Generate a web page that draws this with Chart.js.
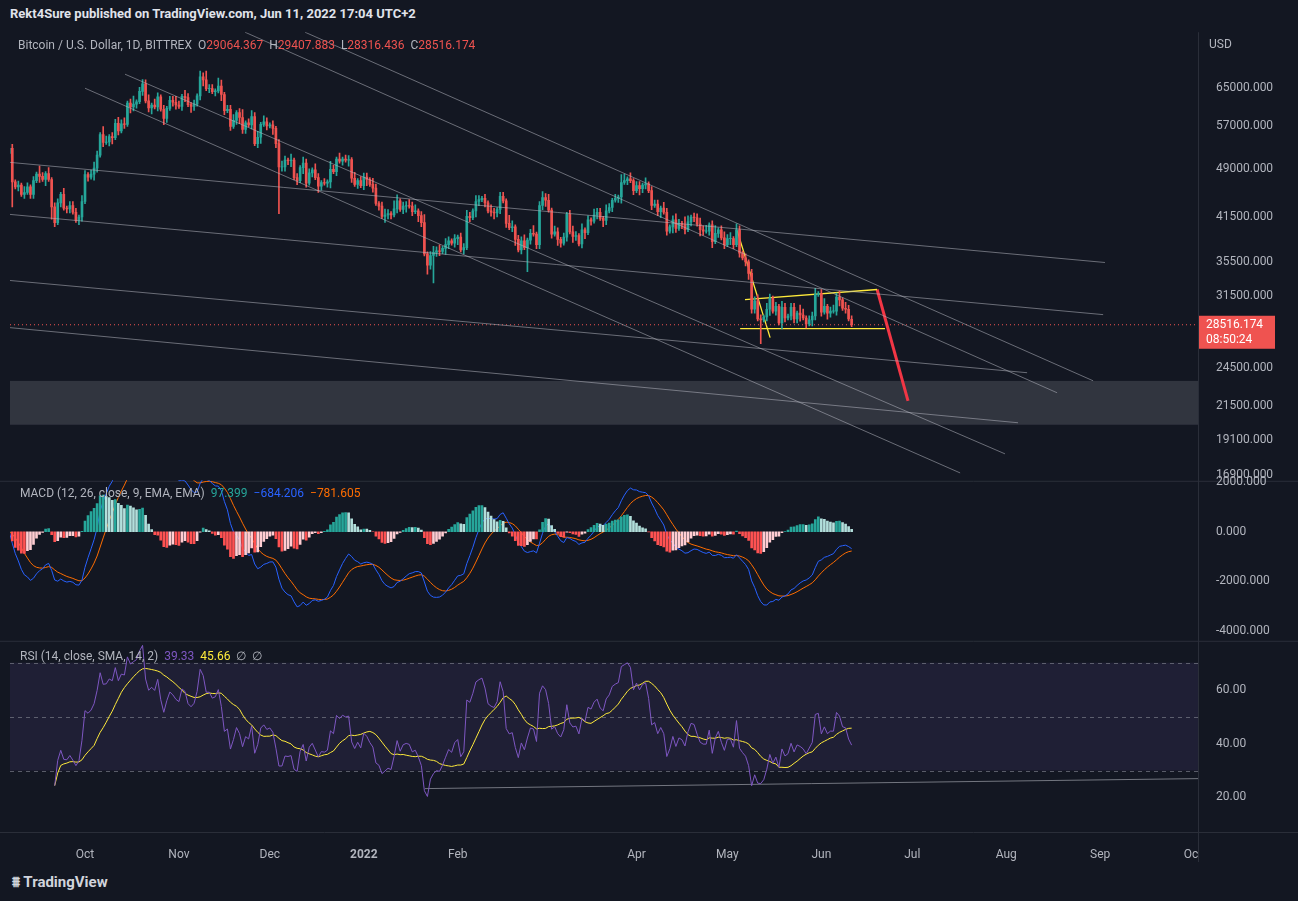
<!DOCTYPE html>
<html><head><meta charset="utf-8">
<script src="https://cdn.jsdelivr.net/npm/chart.js@4.4.1/dist/chart.umd.min.js"></script>
<style>
html,body{margin:0;padding:0;background:#131722;width:1298px;height:901px;overflow:hidden;font-family:Roboto,"Liberation Sans",sans-serif}
canvas{position:absolute;left:0}
.t{position:absolute;color:#d1d4dc;font-size:12px;white-space:nowrap}
</style></head><body>
<div class="t" style="left:10px;top:6px;font-size:13px;font-weight:bold;color:#e0e3eb">Rekt4Sure published on TradingView.com, Jun 11, 2022 17:04 UTC+2</div>
<canvas id="c1" width="1298" height="483" style="top:15px"></canvas>
<canvas id="c2" width="1298" height="195" style="top:463px"></canvas>
<canvas id="c3" width="1298" height="237" style="top:625px"></canvas>
<div class="t" style="left:18px;top:38px;color:#b2b5be">Bitcoin / U.S. Dollar, 1D, BITTREX &nbsp;O<span style="color:#ef5350">29064.367</span> &nbsp;H<span style="color:#ef5350">29407.883</span> &nbsp;L<span style="color:#ef5350">28316.436</span> &nbsp;C<span style="color:#ef5350">28516.174</span></div>
<div class="t" style="left:20px;top:486px;color:#b2b5be">MACD (12, 26, close, 9, EMA, EMA) &nbsp;<span style="color:#26a69a">97.399</span> &nbsp;<span style="color:#2962ff">−684.206</span> &nbsp;<span style="color:#ff6d00">−781.605</span></div>
<div class="t" style="left:20px;top:649px;color:#b2b5be">RSI (14, close, SMA, 14, 2) &nbsp;<span style="color:#7e57c2">39.33</span> &nbsp;<span style="color:#ffeb3b">45.66</span> &nbsp;∅ &nbsp;∅</div>
<div class="t" style="left:1209px;top:37px;color:#b2b5be">USD</div>
<div class="t" style="left:12px;top:873px;font-size:15px;font-weight:bold;color:#d1d4dc">⩩ TradingView</div>
<script>
// daily closes (k USD), Sep 6 2021 .. Jun 11 2022
const closesSep=[52.7,46.9,46.1,46.4,44.9,45.2,46.1,44.9,47.1,48.2,47.8,47.3,48.3,47.3,43.0,40.7,43.6,44.9,42.8,42.7,43.2,42.2,41.0,41.5,43.8];
const closesOct=[48.1,47.7,48.2,49.2,51.5,55.3,53.8,53.9,54.9,54.7,57.5,56.0,57.4,57.3,61.7,60.9,61.5,62.0,64.3,66.0,62.2,60.7,61.3,60.9,63.1,60.4,58.5,60.6,62.3,61.9,61.3];
const closesNov=[61.0,63.2,62.9,61.4,61.0,61.5,63.3,67.6,66.9,64.9,64.9,64.2,64.4,65.5,63.6,60.1,60.4,56.9,58.1,59.7,58.7,56.3,57.6,57.2,58.9,53.6,54.8,57.3,57.8,57.0];
const closesDec=[57.2,56.5,53.6,49.4,49.4,50.6,50.5,50.6,47.6,47.1,49.3,50.1,46.7,48.4,48.9,47.6,46.2,46.8,46.7,46.9,49.0,48.6,50.8,50.4,50.8,50.6,50.7,47.5,46.5,47.1,46.3];
const closesJan=[47.7,47.3,46.5,45.9,43.5,43.1,41.6,41.8,42.0,41.8,42.7,43.9,42.6,43.1,43.2,43.1,42.3,42.4,41.7,40.7,36.5,35.1,36.3,36.7,36.9,36.8,37.2,37.7,38.2,37.9,38.5];
const closesFeb=[38.7,37.0,37.3,41.6,41.4,42.4,43.8,44.1,44.3,43.6,42.4,42.2,42.1,42.6,44.6,43.9,40.6,40.0,40.1,38.4,37.0,38.2,37.3,38.3,39.2,39.1,37.7,43.2];
const closesMar=[44.4,44.0,42.5,39.1,39.4,38.4,37.9,38.7,41.9,39.4,38.8,38.9,37.8,39.7,39.3,41.1,40.9,41.8,42.2,41.3,41.0,42.4,42.9,44.0,44.3,44.5,46.8,47.1,47.4,47.1,45.5];
const closesApr=[46.3,45.8,46.4,46.6,45.5,43.2,43.4,42.3,42.8,42.2,39.5,40.1,41.1,39.9,40.6,40.4,39.7,40.8,41.5,41.4,40.5,39.7,39.5,39.5,40.4,38.1,39.2,39.7,38.6,37.7];
const closesMay=[38.5,38.5,37.7,39.7,36.6,36.0,35.5,34.1,30.1,31.0,29.1,29.0,29.3,30.1,31.3,29.9,30.4,28.7,30.3,29.2,29.4,30.3,29.1,29.7,29.5,29.2,28.6,29.0,29.4,31.7,31.8];
const closesJun=[29.8,30.4,29.7,29.9,29.9,31.4,31.1,30.2,30.1,29.1,28.516];
const firstOpen=51.8;
// wick sizes, digit x 0.7% of close
const wickUp="3212132121421312213122213212321431223231241232313212122321321213212214312231241232313212123213121322132121421312213122213212321431223231241232313212122321321213212214312231241232313212123213121322132121421312213122213212321431223231241232313212122321321213212214312231241232313212123213121322";
const wickDn="2912121221313162121221122121321212312121322121231213212212213212312121321212322121231213212223121321213212312121321212312121322121231213212212213212312121321212322121231213212223121321213212312121321212312121322121231213212212213212312121321212322121231213212223121321213212312121321212312121";
// notable wick extremes (day index, k USD)
const lowIdx=[1,89,138,140,171,248,278], lowVal=[43.0,42.0,34.0,33.0,34.3,26.7,28.316];
const highIdx=[44,65,203,278], highVal=[67.0,69.0,48.2,29.408];
const dayOffset=-25; // Sep 6 relative to Oct 1
const xTickDays=[0,31,61,92,123,182,212,243,273,304,335,365];
const xTickLabels=["Oct","Nov","Dec","2022","Feb","Apr","May","Jun","Jul","Aug","Sep","Oc"];
const priceTicks=[16900,19100,21500,24500,31500,35500,41500,49000,57000,65000];
const macdTicks=[2000,0,-2000,-4000];
const rsiTicks=[20,40,60];
// drawings: [day1, price1, day2, price2]
const grayLines=[[72.6,79000,332.7,23460],[52.8,79000,320.8,22500],[13.2,68250,303.6,18190],[0,65000,288.8,17020],
 [-24.75,50200,336.6,35420],[-24.75,41880,336,29540],[-24.75,33270,310.9,24130],[-24.75,28230,307.9,20270]];
const yellowLines=[[215.2,39600,226.1,27270],[217.8,31130,261.4,32240],[216.2,28130,264,28130]];
const redArrow=[261.4,32240,271.6,21880];
const zone=[23450,20130];
const lastPrice=28516.174;
const rsiLine=[112.2,23.3,367.3,27.0];

const closes=[].concat(closesSep,closesOct,closesNov,closesDec,closesJan,closesFeb,closesMar,closesApr,closesMay,closesJun).map(v=>v*1000);
const N=closes.length;
const opens=closes.map((c,i)=>i?closes[i-1]:firstOpen*1000);
opens[N-1]=29064.367;
const highs=[],lows=[];
for(let i=0;i<N;i++){const o=opens[i],c=closes[i];
 highs.push(Math.max(o,c)*(1+0.007*(+wickUp[i]||2)));
 lows.push(Math.min(o,c)*(1-0.007*(+wickDn[i]||2)));}
lowIdx.forEach((k,j)=>lows[k]=lowVal[j]*1000);
highIdx.forEach((k,j)=>highs[k]=highVal[j]*1000);
const X=i=>i+dayOffset;
const XMIN=-24.75,XMAX=367.3;
const UP='#26a69a',DN='#ef5350';
const candleCol=closes.map((c,i)=>c>=opens[i]?UP:DN);

function ema(a,n){const k=2/(n+1);const r=[];a.forEach((v,i)=>r.push(i?v*k+r[i-1]*(1-k):v));return r;}
const e12=ema(closes,12),e26=ema(closes,26);
const macd=closes.map((_,i)=>e12[i]-e26[i]);
const sig=ema(macd,9);
const hist=macd.map((m,i)=>m-sig[i]);
const histCol=hist.map((h,i)=>{const p=i?hist[i-1]:h;return h>=0?(h>=p?'#26a69a':'#b2dfdb'):(h<p?'#ff5252':'#ffcdd2');});
const rsi=[];let ag=0,al=0;
for(let i=0;i<N;i++){if(!i){rsi.push(null);continue;}const d=closes[i]-closes[i-1];const g=Math.max(d,0),l=Math.max(-d,0);
 if(i<=14){ag+=g/14;al+=l/14;rsi.push(null);continue;}ag=(ag*13+g)/14;al=(al*13+l)/14;
 rsi.push(al===0?100:100-100/(1+ag/al));}
const rsiMa=rsi.map((_,i)=>{const s=rsi.slice(Math.max(0,i-13),i+1).filter(v=>v!==null);return s.length?s.reduce((a,b)=>a+b,0)/s.length:null;});

const FONT={family:'Roboto, "Liberation Sans", sans-serif',size:12};
const AX='#b2b5be';
function yAxis(type,min,max,ticks,fmt){return{type,min,max,position:'right',grid:{display:false},border:{display:false},
 afterFit:s=>{s.width=100},afterBuildTicks:s=>{s.ticks=ticks.map(v=>({value:v}))},
 ticks:{color:AX,font:FONT,padding:10,callback:fmt}};}
function xAxis(show){const a={type:'linear',min:XMIN,max:XMAX,offset:false,display:show,grid:{display:false},border:{display:false},
 afterBuildTicks:s=>{s.ticks=xTickDays.map(v=>({value:v}))},
 ticks:{color:AX,font:c=>({...FONT,weight:c.tick&&c.tick.value===92?'bold':'normal'}),maxRotation:0,autoSkip:false,padding:8,
 callback:v=>xTickLabels[xTickDays.indexOf(v)]}};if(show)a.afterFit=s=>{s.height=30};return a;}
const frame={id:'frame',afterDraw(ch){const{ctx,chartArea:a}=ch;ctx.save();ctx.strokeStyle='#2a2e39';ctx.lineWidth=1;
 ctx.beginPath();ctx.moveTo(a.right+0.5,a.top);ctx.lineTo(a.right+0.5,ch.height);ctx.moveTo(0,a.bottom+0.5);ctx.lineTo(ch.width,a.bottom+0.5);ctx.stroke();ctx.restore();}};
const seg=(l,col,w,dash)=>({type:'line',data:[{x:l[0],y:l[1]},{x:l[2],y:l[3]}],borderColor:col,borderWidth:w,borderDash:dash||[],pointRadius:0,fill:false});
const baseOpts={responsive:false,animation:false,layout:{padding:{left:10,top:0,bottom:0,right:0}},plugins:{legend:{display:false},tooltip:{enabled:false}}};

const zonePlugin={id:'zone',beforeDatasetsDraw(ch){const y=ch.scales.y,a=ch.chartArea,ctx=ch.ctx;
 const t=y.getPixelForValue(zone[0]),b=y.getPixelForValue(zone[1]);ctx.save();ctx.fillStyle='rgba(120,123,134,0.3)';ctx.fillRect(a.left,t,a.right-a.left,b-t);ctx.restore();}};
const tagPlugin={id:'tag',afterDraw(ch){const y=ch.scales.y.getPixelForValue(lastPrice),a=ch.chartArea,ctx=ch.ctx;
 ctx.save();ctx.fillStyle='#ef5350';ctx.fillRect(a.right+1,y-9,76,33);ctx.fillStyle='#fff';ctx.font='12px Roboto';ctx.textBaseline='middle';
 ctx.fillText(lastPrice.toFixed(3),a.right+8,y);ctx.fillText('08:50:24',a.right+8,y+15);ctx.restore();}};
new Chart(document.getElementById('c1'),{
 data:{datasets:[
  ...grayLines.map(l=>seg(l,'rgba(178,181,190,0.55)',1)),
  {type:'line',data:[{x:XMIN,y:lastPrice},{x:XMAX,y:lastPrice}],borderColor:'#ef5350',borderWidth:1,borderDash:[1,3],pointRadius:0},
  {type:'bar',data:closes.map((c,i)=>({x:X(i),y:[lows[i],highs[i]]})),backgroundColor:candleCol,barThickness:1,grouped:false},
  {type:'bar',data:closes.map((c,i)=>({x:X(i),y:[opens[i],c===opens[i]?c*1.001:c]})),backgroundColor:candleCol,barThickness:2,grouped:false},
  ...yellowLines.map(l=>seg(l,'#ffeb3b',1.3)),
  seg(redArrow,'#f23645',3)
 ]},
 options:{...baseOpts,scales:{x:xAxis(false),y:yAxis('logarithmic',16560,79000,priceTicks,v=>v.toFixed(3))}},
 plugins:[zonePlugin,frame,tagPlugin]});

new Chart(document.getElementById('c2'),{
 data:{datasets:[
  {type:'bar',data:hist.map((h,i)=>({x:X(i),y:h})),backgroundColor:histCol,barThickness:2,grouped:false},
  {type:'line',data:macd.map((v,i)=>({x:X(i),y:v})),borderColor:'#2962ff',borderWidth:1,pointRadius:0},
  {type:'line',data:sig.map((v,i)=>({x:X(i),y:v})),borderColor:'#ff6d00',borderWidth:1,pointRadius:0}
 ]},
 options:{...baseOpts,scales:{x:xAxis(false),y:yAxis('linear',-4404,2081,macdTicks,v=>v.toFixed(3))}},
 plugins:[frame]});

const band={id:'band',beforeDatasetsDraw(ch){const y=ch.scales.y,a=ch.chartArea,ctx=ch.ctx;ctx.save();
 const t=y.getPixelForValue(70),b=y.getPixelForValue(30);ctx.fillStyle='rgba(126,87,194,0.12)';ctx.fillRect(a.left,t,a.right-a.left,b-t);
 ctx.strokeStyle='rgba(120,123,134,0.7)';ctx.setLineDash([4,4]);[70,50,30].forEach(v=>{const p=Math.round(y.getPixelForValue(v))+0.5;ctx.beginPath();ctx.moveTo(a.left,p);ctx.lineTo(a.right,p);ctx.stroke();});ctx.restore();}};
new Chart(document.getElementById('c3'),{
 data:{datasets:[
  {type:'line',data:rsi.map((v,i)=>({x:X(i),y:v})),borderColor:'#7e57c2',borderWidth:1,pointRadius:0},
  {type:'line',data:rsiMa.map((v,i)=>({x:X(i),y:v})),borderColor:'#ffeb3b',borderWidth:1,pointRadius:0},
  seg(rsiLine,'rgba(178,181,190,0.6)',1)
 ]},
 options:{...baseOpts,scales:{x:xAxis(true),y:yAxis('linear',7.2,77.6,rsiTicks,v=>v.toFixed(2))}},
 plugins:[band,frame]});
</script></body></html>
